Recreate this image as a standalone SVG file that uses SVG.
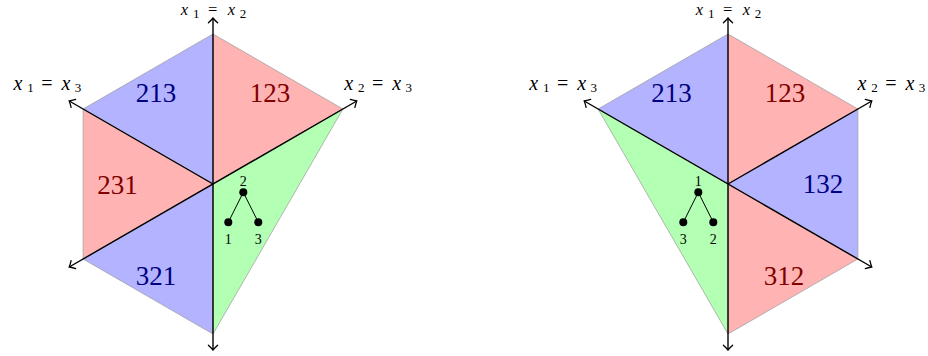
<svg xmlns="http://www.w3.org/2000/svg" width="928" height="356" viewBox="0 0 928 356">
<style>
.red{fill:#ffb3b3;stroke:#999;stroke-width:0.7;stroke-linejoin:round}
.blue{fill:#b3b3ff;stroke:#999;stroke-width:0.7;stroke-linejoin:round}
.green{fill:#b3ffb3;stroke:#999;stroke-width:0.7;stroke-linejoin:round}
.rl{font-family:"Liberation Serif",serif;font-size:27px;text-anchor:middle}
.rt{fill:#800000}
.bt{fill:#000080}
.ax{stroke:#000;stroke-width:1.4;fill:none}
.math{font-family:"Liberation Serif",serif;font-size:20px;text-anchor:middle;fill:#000}
.tm{font-size:16.5px}
.ts{font-size:12px}
.mi{font-style:italic}
.sub{font-family:"Liberation Serif",serif;font-size:13px;text-anchor:middle;fill:#000}
.tl{font-family:"Liberation Serif",serif;font-size:14px;text-anchor:middle;fill:#000}
.tr{stroke:#000;stroke-width:1}
</style>
<defs>
<marker id="arr" viewBox="-7 -6 9 12" markerWidth="9" markerHeight="12" refX="0" refY="0" orient="auto-start-reverse" markerUnits="userSpaceOnUse">
<path d="M-4.8,-4.6 Q-1.6,-1.2 0,0 Q-1.6,1.2 -4.8,4.6" fill="none" stroke="#000" stroke-width="1.3" stroke-linecap="round"/>
</marker>
</defs>

<!-- Left diagram regions -->
<g id="L213"><polygon class="blue" points="213,184 213,34 83.1,109"/><text class="rl bt" x="156" y="102">213</text></g>
<g id="L123"><polygon class="red" points="213,184 213,34 342.9,109"/><text class="rl rt" x="270" y="102">123</text></g>
<g id="L231"><polygon class="red" points="213,184 83.1,109 83.1,259"/><text class="rl rt" x="117.5" y="194">231</text></g>
<g id="L321"><polygon class="blue" points="213,184 83.1,259 213,334"/><text class="rl bt" x="156" y="285">321</text></g>
<g id="Lgreen"><polygon class="green" points="213,184 342.9,109 213,334"/></g>

<!-- Right diagram regions -->
<g id="R213"><polygon class="blue" points="728,184 728,34 598.1,109"/><text class="rl bt" x="671.5" y="102">213</text></g>
<g id="R123"><polygon class="red" points="728,184 728,34 857.9,109"/><text class="rl rt" x="785" y="102">123</text></g>
<g id="R132"><polygon class="blue" points="728,184 857.9,109 857.9,259"/><text class="rl bt" x="823" y="193">132</text></g>
<g id="R312"><polygon class="red" points="728,184 857.9,259 728,334"/><text class="rl rt" x="784" y="285">312</text></g>
<g id="Rgreen"><polygon class="green" points="728,184 598.1,109 728,334"/></g>

<!-- Connectors: axes -->
<g id="connectors">
<line class="ax" x1="213" y1="18" x2="213" y2="350" marker-start="url(#arr)" marker-end="url(#arr)"/>
<line class="ax" x1="356.76" y1="101" x2="69.24" y2="267" marker-start="url(#arr)" marker-end="url(#arr)"/>
<line class="ax" x1="213" y1="184" x2="69.24" y2="101" marker-end="url(#arr)"/>
<line class="ax" x1="728" y1="18" x2="728" y2="350" marker-start="url(#arr)" marker-end="url(#arr)"/>
<line class="ax" x1="584.24" y1="101" x2="871.76" y2="267" marker-start="url(#arr)" marker-end="url(#arr)"/>
<line class="ax" x1="728" y1="184" x2="871.76" y2="101" marker-end="url(#arr)"/>
</g>

<!-- Axis labels -->
<g id="lab-L12"><text class="math tm mi" x="184.5" y="15">x</text><text class="sub ts" x="196.2" y="17.5">1</text><text class="math tm" x="212.7" y="15">=</text><text class="math tm mi" x="231.5" y="15">x</text><text class="sub ts" x="243" y="17.5">2</text></g>
<g id="lab-L13"><text class="math mi" x="18" y="89.5">x</text><text class="sub" x="30.5" y="92">1</text><text class="math" x="47" y="89.5">=</text><text class="math mi" x="66" y="89.5">x</text><text class="sub" x="78" y="92">3</text></g>
<g id="lab-L23"><text class="math mi" x="348.7" y="89.5">x</text><text class="sub" x="361.2" y="92">2</text><text class="math" x="377.7" y="89.5">=</text><text class="math mi" x="396.7" y="89.5">x</text><text class="sub" x="408.7" y="92">3</text></g>
<g id="lab-R12"><text class="math tm mi" x="699.5" y="15">x</text><text class="sub ts" x="711.2" y="17.5">1</text><text class="math tm" x="727.7" y="15">=</text><text class="math tm mi" x="746.5" y="15">x</text><text class="sub ts" x="758" y="17.5">2</text></g>
<g id="lab-R13"><text class="math mi" x="533.7" y="89.5">x</text><text class="sub" x="546.2" y="92">1</text><text class="math" x="562.7" y="89.5">=</text><text class="math mi" x="581.7" y="89.5">x</text><text class="sub" x="593.7" y="92">3</text></g>
<g id="lab-R23"><text class="math mi" x="862" y="89.5">x</text><text class="sub" x="874.5" y="92">2</text><text class="math" x="891" y="89.5">=</text><text class="math mi" x="910" y="89.5">x</text><text class="sub" x="922" y="92">3</text></g>

<!-- Trees -->
<g id="treeL">
<line class="tr" x1="243.3" y1="192.3" x2="228.3" y2="222.3"/>
<line class="tr" x1="243.3" y1="192.3" x2="258.3" y2="222.3"/>
<circle cx="243.3" cy="192.3" r="4"/><circle cx="228.3" cy="222.3" r="4"/><circle cx="258.3" cy="222.3" r="4"/>
<text class="tl" x="243.3" y="186">2</text><text class="tl" x="228.3" y="244">1</text><text class="tl" x="258.3" y="244">3</text>
</g>
<g id="treeR">
<line class="tr" x1="698.3" y1="192.3" x2="683.3" y2="222.3"/>
<line class="tr" x1="698.3" y1="192.3" x2="713.3" y2="222.3"/>
<circle cx="698.3" cy="192.3" r="4"/><circle cx="683.3" cy="222.3" r="4"/><circle cx="713.3" cy="222.3" r="4"/>
<text class="tl" x="698.3" y="186">1</text><text class="tl" x="683.3" y="244">3</text><text class="tl" x="713.3" y="244">2</text>
</g>
</svg>
